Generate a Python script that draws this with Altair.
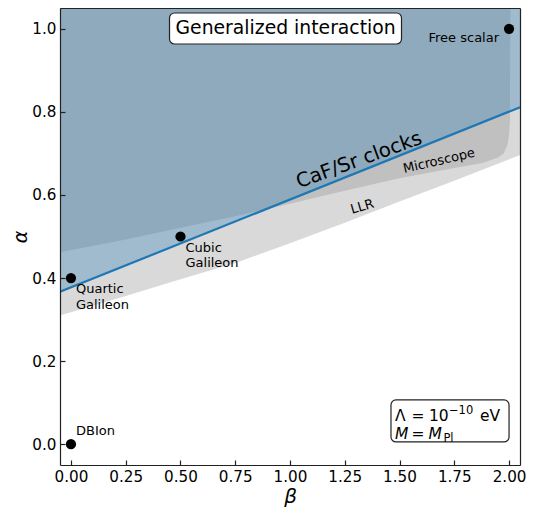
import altair as alt
import pandas as pd

FONT = "DejaVu Sans"

# ---------------- data ----------------
x_ticks = [0.0, 0.25, 0.5, 0.75, 1.0, 1.25, 1.5, 1.75, 2.0]
y_ticks = [0.0, 0.2, 0.4, 0.6, 0.8, 1.0]
x_domain = [-0.05, 2.05]
y_domain = [-0.05, 1.05]
alpha_top = 1.05

# LLR bound (light grey region above curve)
llr_beta = [-0.05, 0.25, 0.5, 0.75, 1.0, 1.25, 1.5, 1.75, 2.05]
llr_alpha = [0.31, 0.357, 0.397, 0.436, 0.484, 0.533, 0.584, 0.634, 0.696]

# Microscope bound (darker grey region above curve)
mic_beta = [-0.05, 0.25, 0.5, 0.75, 1.0, 1.25, 1.5, 1.75, 1.88, 1.95, 1.975, 1.993, 2.0, 2.004, 2.006]
mic_alpha = [0.462, 0.493, 0.521, 0.549, 0.579, 0.61, 0.64, 0.665, 0.677, 0.69, 0.70, 0.72, 0.745, 0.78, 1.05]

# CaF/Sr clocks bound (blue line, excluded above)
clock_beta = [-0.05, 2.05]
clock_alpha = [0.367, 0.811]

# Models
model_names = ["DBIon", "Quartic\nGalileon", "Cubic\nGalileon", "Free scalar"]
model_beta = [0.0, 0.0, 0.5, 2.0]
model_alpha = [0.0, 0.4, 0.5, 1.0]

# ---------------- tables ----------------
llr = pd.DataFrame({"beta": llr_beta, "alpha": llr_alpha, "top": alpha_top})
mic = pd.DataFrame({"beta": mic_beta, "alpha": mic_alpha, "top": alpha_top})
clk = pd.DataFrame({"beta": clock_beta, "alpha": clock_alpha, "top": alpha_top})
models = pd.DataFrame({"name": model_names, "beta": model_beta, "alpha": model_alpha})


def xs():
    return alt.Scale(domain=x_domain, nice=False, zero=False)


def ys():
    return alt.Scale(domain=y_domain, nice=False, zero=False)


def X(**kw):
    kw.setdefault("axis", None)
    return alt.X("beta:Q", scale=xs(), **kw)


def Y(**kw):
    kw.setdefault("axis", None)
    return alt.Y("alpha:Q", scale=ys(), **kw)


def XD(v):
    return alt.X(datum=v, type="quantitative", scale=xs(), axis=None)


def YD(v):
    return alt.Y(datum=v, type="quantitative", scale=ys(), axis=None)


SPINE = "#222222"

main_x_axis = alt.Axis(
    orient="bottom", values=x_ticks, format=".2f", ticks=False, grid=False,
    domain=True, domainColor=SPINE, domainWidth=1.2,
    labelFont=FONT, labelFontSize=15.2, labelColor="black", labelPadding=4,
    labelFlush=False, labelOverlap=False,
    title="β", titleFont=FONT, titleFontSize=20, titleFontStyle="italic",
    titleFontWeight="normal", titleColor="black", titlePadding=2, zindex=1,
)
main_y_axis = alt.Axis(
    orient="left", values=y_ticks, format=".1f", ticks=False, grid=False,
    domain=True, domainColor=SPINE, domainWidth=1.2,
    labelFont=FONT, labelFontSize=15.2, labelColor="black", labelPadding=4,
    labelFlush=False, labelOverlap=False,
    title="α", titleFont=FONT, titleFontSize=19, titleFontStyle="italic",
    titleFontWeight="normal", titleColor="black", titlePadding=1, zindex=1,
)

# regions
llr_area = alt.Chart(llr).mark_area(color="#d9d9d9", clip=True).encode(
    x=X(axis=main_x_axis), y=Y(axis=main_y_axis), y2="top:Q"
)
mic_area = alt.Chart(mic).mark_area(color="#c0c0c0", clip=True).encode(
    x=X(), y=Y(), y2="top:Q"
)
clk_area = alt.Chart(clk).mark_area(color="#1f77b4", opacity=0.3, clip=True).encode(
    x=X(), y=Y(), y2="top:Q"
)
clk_line = alt.Chart(clk).mark_line(color="#1f77b4", strokeWidth=2.2, clip=True).encode(
    x=X(), y=Y()
)

pts = alt.Chart(models).mark_circle(size=105, color="black", opacity=1).encode(x=X(), y=Y())

lab_style = dict(font=FONT, fontSize=13, color="black", lineBreak="\n", lineHeight=15.5)
lab_free = alt.Chart(models).transform_filter(alt.datum.name == "Free scalar").mark_text(
    align="right", baseline="middle", dx=-10, dy=9, **lab_style
).encode(x=X(), y=Y(), text="name:N")
lab_gal = alt.Chart(models).transform_filter(
    (alt.datum.name == "Cubic\nGalileon") | (alt.datum.name == "Quartic\nGalileon")
).mark_text(align="left", baseline="top", dx=5, dy=5, **lab_style).encode(
    x=X(), y=Y(), text="name:N"
)
lab_dbi = alt.Chart(models).transform_filter(alt.datum.name == "DBIon").mark_text(
    align="left", baseline="alphabetic", dx=5, dy=-9, **lab_style
).encode(x=X(), y=Y(), text="name:N")


# curve labels
def tlabel(txt, b, a, size, angle):
    return alt.Chart().mark_text(
        text=txt, font=FONT, fontSize=size, color="black", angle=angle,
        align="center", baseline="middle",
    ).encode(x=XD(b), y=YD(a))


t_clock = tlabel("CaF/Sr clocks", 1.315, 0.684, 19.8, 340)
t_mic = tlabel("Microscope", 1.68, 0.682, 13, 347)
t_llr = tlabel("LLR", 1.33, 0.572, 13, 344)

# title box
box_style = dict(fill="white", stroke=SPINE, strokeWidth=1.2, cornerRadius=5)
title_box = alt.Chart().mark_rect(**box_style).encode(
    x=XD(0.45), x2=alt.X2(datum=1.509), y=YD(1.038), y2=alt.Y2(datum=0.9634)
)
title_txt = tlabel("Generalized interaction", 0.98, 1.0007, 18.8, 0)

# info box
info_box = alt.Chart().mark_rect(**box_style).encode(
    x=XD(1.461), x2=alt.X2(datum=2.0), y=YD(0.1066), y2=alt.Y2(datum=0.0055)
)


def piece(txt, b, a, dx, dy=0, size=15.5, style="normal"):
    return alt.Chart().mark_text(
        text=txt, font=FONT, fontSize=size, fontStyle=style, color="black",
        align="left", baseline="alphabetic", dx=dx, dy=dy,
    ).encode(x=XD(b), y=YD(a))


ib, l1, l2 = 1.479, 0.056, 0.0123
info_txt = [
    piece("Λ", ib, l1, 0),
    piece("=", ib, l1, 16.5),
    piece("10", ib, l1, 34),
    piece("−10", ib, l1, 54, dy=-6.5, size=11.5),
    piece("eV", ib, l1, 85),
    piece("M", ib, l2, 0, style="italic"),
    piece("=", ib, l2, 16.5),
    piece("M", ib, l2, 33.5, style="italic"),
    piece("Pl", ib, l2, 48.5, dy=3, size=11.5),
]

# inward ticks and top/right spines
tick_layer = alt.Chart(models).mark_point(opacity=0).encode(
    x=X(axis=alt.Axis(orient="bottom", values=x_ticks, offset=-5, labels=False, domain=False,
                      ticks=True, tickSize=5, tickColor=SPINE, tickWidth=1.2, grid=False,
                      title=None, zindex=1)),
    y=Y(axis=alt.Axis(orient="left", values=y_ticks, offset=-5, labels=False, domain=False,
                      ticks=True, tickSize=5, tickColor=SPINE, tickWidth=1.2, grid=False,
                      title=None, zindex=1)),
)
frame_layer = alt.Chart(models).mark_point(opacity=0).encode(
    x=X(axis=alt.Axis(orient="top", labels=False, ticks=False, domain=True, domainColor=SPINE,
                      domainWidth=1.2, grid=False, title=None, zindex=1)),
    y=Y(axis=alt.Axis(orient="right", labels=False, ticks=False, domain=True, domainColor=SPINE,
                      domainWidth=1.2, grid=False, title=None, zindex=1)),
)

chart = alt.layer(
    llr_area, mic_area, clk_area, clk_line, pts, lab_free, lab_gal, lab_dbi,
    t_clock, t_mic, t_llr, title_box, title_txt, info_box, *info_txt,
    tick_layer, frame_layer,
).resolve_axis(x="independent", y="independent").properties(
    width=460, height=457,
    autosize=alt.AutoSizeParams(type="none"),
    padding={"left": 52, "top": 0, "right": 8, "bottom": 47},
).configure_view(stroke=None)

chart.save("out.html", embed_options={"renderer": "svg", "actions": False})
